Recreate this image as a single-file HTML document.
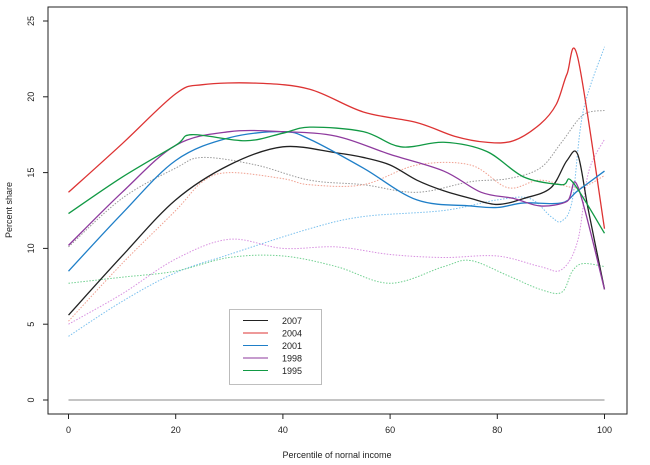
<!DOCTYPE html>
<html><head><meta charset="utf-8"><style>
body{margin:0;background:#fff}
svg text{font-family:"Liberation Sans",sans-serif;font-size:9px;fill:#222}
</style></head><body>
<svg width="650" height="460">
<rect x="48" y="7" width="579" height="407" fill="none" stroke="#222" stroke-width="1"/>
<g id="axes"></g>
<g id="series"></g>
<line x1="68.5" x2="604.5" y1="400" y2="400" stroke="#888" stroke-width="1"/>
<text x="337" y="458" text-anchor="middle">Percentile of nornal income</text>
<text transform="translate(12,210) rotate(-90)" text-anchor="middle">Percent share</text>
<g>
<rect x="229.5" y="309.5" width="92" height="75" fill="#fff" stroke="#555" stroke-width="0.8" stroke-dasharray="1,1"/>
<g id="legend"></g>
</g>
</svg>
<script>
const xTicks=[0,20,40,60,80,100];
const yTicks=[0,5,10,15,20,25];
const seriesNames=["2007","2004","2001","1998","1995"];
const solidColors=["#222","#d33","#1f7fc8","#8e3a9e","#119944"];
const dotColors=["#999","#f0a090","#7ac0ee","#d890e0","#70d090"];
const xs2007=[0,10,20,30,40,50,55,60,65,70,75,80,85,90,93,95,97,100];
const ys2007=[5.6,9.5,13.2,15.5,16.7,16.3,16.0,15.5,14.5,13.8,13.3,12.9,13.3,14.0,15.8,16.2,12.5,7.3];
const xs2004=[0,10,20,25,35,45,55,65,72,78,83,88,91,93,95,100];
const ys2004=[13.7,16.9,20.2,20.8,20.9,20.5,19.0,18.3,17.4,17.0,17.1,18.2,19.5,21.5,22.6,11.3];
const xs2001=[0,10,20,30,40,45,55,65,75,80,85,92,95,100];
const ys2001=[8.5,12.3,15.8,17.3,17.7,17.2,15.3,13.2,12.8,12.7,13.0,13.0,13.8,15.1];
const xs1998=[0,10,20,30,40,50,60,70,77,83,88,93,95,100];
const ys1998=[10.2,13.7,16.8,17.7,17.7,17.4,16.2,15.1,13.7,13.3,12.8,13.1,14.1,7.3];
const xs1995=[0,10,20,23,33,40,45,55,62,70,78,85,92,94,100];
const ys1995=[12.3,14.7,16.8,17.5,17.1,17.6,18.0,17.7,16.7,17.0,16.4,14.7,14.2,14.4,11.0];
const dxGray=[0,10,20,25,35,45,55,65,75,82,88,92,96,100];
const dyGray=[10.1,13.3,15.3,16.0,15.5,14.5,14.2,13.7,14.4,14.6,15.3,17,18.8,19.1];
const dxSalmon=[0,10,20,25,30,40,45,55,65,75,82,88,95,100];
const dySalmon=[5.2,9.0,12.5,14.4,15.0,14.6,14.2,14.2,15.5,15.5,14.0,14.5,14.0,14.8];
const dxBlue=[0,10,20,30,45,55,70,80,86,90,92,94,96,100];
const dyBlue=[4.2,6.5,8.4,9.6,11.3,12.1,12.5,13.2,13.3,12.1,11.8,13.2,19,23.3];
const dxViolet=[0,10,20,30,40,50,60,70,80,88,92,95,97,100];
const dyViolet=[5.0,7.0,9.3,10.6,10.0,10.1,9.6,9.4,9.5,8.8,8.6,10.5,15,17.2];
const dxGreen=[0,10,20,30,40,50,60,70,75,82,88,92,94,96,100];
const dyGreen=[7.7,8.1,8.5,9.4,9.5,8.8,7.7,8.8,9.2,8.2,7.3,7.1,8.5,9.0,8.8];

function sx(v){return 68.5+v*5.36;}
function sy(v){return 400-v*15.16;}
const NS="http://www.w3.org/2000/svg";
function mk(t,a,p){const e=document.createElementNS(NS,t);for(const k in a)e.setAttribute(k,a[k]);p.appendChild(e);return e;}
function path(xs,ys){
 const p=xs.map((x,i)=>[sx(x),sy(ys[i])]);
 let d="M"+p[0][0]+","+p[0][1];
 for(let i=0;i<p.length-1;i++){
  const p0=p[Math.max(i-1,0)],p1=p[i],p2=p[i+1],p3=p[Math.min(i+2,p.length-1)];
  const c1=[p1[0]+(p2[0]-p0[0])/6,p1[1]+(p2[1]-p0[1])/6];
  const c2=[p2[0]-(p3[0]-p1[0])/6,p2[1]-(p3[1]-p1[1])/6];
  d+=" C"+c1+" "+c2+" "+p2;
 }
 return d;
}
const ax=document.getElementById('axes');
xTicks.forEach(t=>{
 const l=mk('line',{x1:sx(t),x2:sx(t),y1:414,y2:419,stroke:'#222'},ax);
 
 
 const tx=mk('text',{x:sx(t),y:433,'text-anchor':'middle'},ax);tx.textContent=t;
 
 
});
yTicks.forEach(t=>{
 const l=mk('line',{x1:43,x2:48,y1:sy(t),y2:sy(t),stroke:'#222'},ax);
 
 
 const tx=mk('text',{transform:`translate(34,${sy(t)}) rotate(-90)`,'text-anchor':'middle'},ax);tx.textContent=t;
 
 
});
const sg=document.getElementById('series');
const dotted=[[dxGray,dyGray],[dxSalmon,dySalmon],[dxBlue,dyBlue],[dxViolet,dyViolet],[dxGreen,dyGreen]];
dotted.forEach((s,i)=>{
 const e=mk('path',{d:path(s[0],s[1]),fill:'none',stroke:dotColors[i],'stroke-width':1,'stroke-dasharray':'1.5,1.5'},sg);
 
 
});
const solid=[[xs2007,ys2007],[xs2004,ys2004],[xs2001,ys2001],[xs1998,ys1998],[xs1995,ys1995]];
solid.forEach((s,i)=>{
 const e=mk('path',{d:path(s[0],s[1]),fill:'none',stroke:solidColors[i],'stroke-width':1.3},sg);
 
 
});
const lg=document.getElementById('legend');
seriesNames.forEach((n,i)=>{
 const y=320.5+i*12.5;
 const l=mk('line',{x1:243,x2:268,y1:y,y2:y,stroke:solidColors[i],'stroke-width':1},lg);
 
 
 const t=mk('text',{x:282,y:y+3.5},lg);t.textContent=n;
 
 
});
</script>
</body></html>
